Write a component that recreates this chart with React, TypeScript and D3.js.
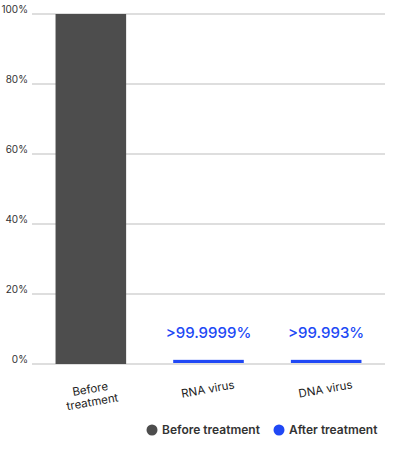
import { useEffect, useRef } from 'react';
import * as d3 from 'd3';

const categories = ['Before treatment', 'RNA virus', 'DNA virus'];
const categoryLines = [['Before', 'treatment'], ['RNA virus'], ['DNA virus']];
const beforeValues = [100, 0, 0];
const afterValues = [0, 0.9, 0.9];
const valueLabels = ['', '>99.9999%', '>99.993%'];
const yTicks = [0, 20, 40, 60, 80, 100];
const seriesNames = ['Before treatment', 'After treatment'];
const seriesColors = ['#4d4d4d', '#2048f5'];

const App = () => {
    const svgRef = useRef<SVGSVGElement>(null);

    useEffect(() => {
        if (!svgRef.current) return;
        document.body.style.margin = '0';

        const width = 401;
        const height = 451;
        const margin = { top: 14, right: 16, bottom: 87, left: 32 };
        const innerWidth = width - margin.left - margin.right;
        const innerHeight = height - margin.top - margin.bottom;
        const font = 'Inter, "Liberation Sans", sans-serif';

        d3.select(svgRef.current).selectAll('*').remove();

        const svg = d3.select(svgRef.current)
            .attr('width', width)
            .attr('height', height)
            .style('font-family', font)
            .append('g')
            .attr('transform', `translate(${margin.left},${margin.top})`);

        const xScale = d3.scaleBand<string>()
            .domain(categories)
            .range([0, innerWidth])
            .paddingInner(0.4)
            .paddingOuter(0.2);

        const yScale = d3.scaleLinear()
            .domain([0, 100])
            .range([innerHeight, 0]);

        // grid lines
        svg.append('g')
            .selectAll('line')
            .data(yTicks)
            .enter()
            .append('line')
            .attr('x1', 0)
            .attr('x2', innerWidth)
            .attr('y1', d => yScale(d))
            .attr('y2', d => yScale(d))
            .attr('stroke', '#bdbdbd')
            .attr('stroke-width', 1);

        // y labels
        svg.append('g')
            .selectAll('text')
            .data(yTicks)
            .enter()
            .append('text')
            .attr('x', -4)
            .attr('y', d => yScale(d) - 1)
            .attr('text-anchor', 'end')
            .style('font-size', '10px')
            .attr('fill', '#333')
            .text(d => `${d}%`);

        // bars
        svg.append('g')
            .selectAll('rect')
            .data(categories)
            .enter()
            .append('rect')
            .attr('x', d => xScale(d) as number)
            .attr('width', xScale.bandwidth())
            .attr('y', (_, i) => yScale(beforeValues[i]))
            .attr('height', (_, i) => innerHeight - yScale(beforeValues[i]))
            .attr('fill', seriesColors[0]);

        svg.append('g')
            .selectAll('rect')
            .data(categories)
            .enter()
            .append('rect')
            .attr('x', d => xScale(d) as number)
            .attr('width', xScale.bandwidth())
            .attr('y', (_, i) => yScale(afterValues[i]) - 1)
            .attr('height', (_, i) => innerHeight - yScale(afterValues[i]))
            .attr('fill', seriesColors[1]);

        // value labels
        svg.append('g')
            .selectAll('text')
            .data(categories)
            .enter()
            .append('text')
            .attr('x', d => (xScale(d) as number) + xScale.bandwidth() / 2)
            .attr('y', innerHeight - 26)
            .attr('text-anchor', 'middle')
            .style('font-size', '15px')
            .style('font-weight', 500)
            .attr('fill', seriesColors[1])
            .text((_, i) => valueLabels[i]);

        // x labels, slightly rotated
        categories.forEach((c, i) => {
            const cx = (xScale(c) as number) + xScale.bandwidth() / 2;
            const cy = innerHeight + 29;
            const t = svg.append('text')
                .attr('transform', `translate(${cx},${cy}) rotate(-10)`)
                .attr('text-anchor', 'middle')
                .style('font-size', '11.5px')
                .attr('fill', '#222');
            categoryLines[i].forEach((line, j) => {
                t.append('tspan')
                    .attr('x', 0)
                    .attr('y', j * 13)
                    .text(line);
            });
        });

        // legend
        const legendX = [152 - margin.left, 279 - margin.left];
        const legendY = 430 - margin.top;
        const legend = svg.append('g');
        seriesNames.forEach((name, i) => {
            legend.append('circle')
                .attr('cx', legendX[i])
                .attr('cy', legendY)
                .attr('r', 5.5)
                .attr('fill', seriesColors[i]);
            legend.append('text')
                .attr('x', legendX[i] + 10)
                .attr('y', legendY + 4)
                .style('font-size', '12px')
                .style('font-weight', 600)
                .attr('fill', '#333')
                .text(name);
        });
    }, []);

    return (
        <svg ref={svgRef} role="img" aria-label="Virus reduction before and after treatment" style={{ display: 'block' }}></svg>
    );
};

export default App;
